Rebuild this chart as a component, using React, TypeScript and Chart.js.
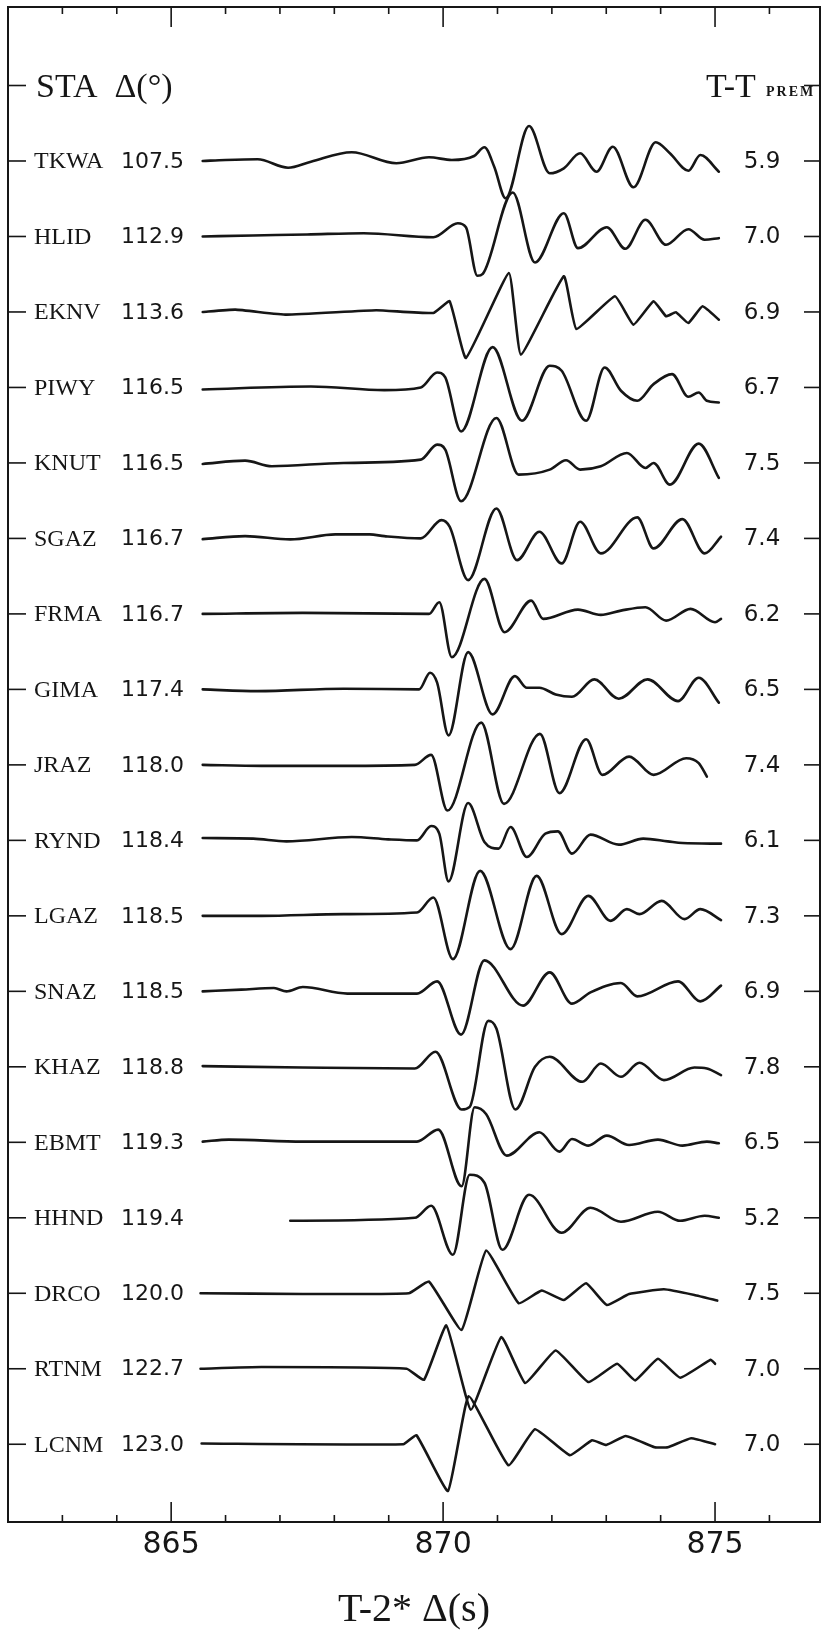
import React, { useEffect, useRef } from 'react';
import { Chart, registerables } from 'chart.js';

Chart.register(...registerables);

// Station list, epicentral distance (deg) and travel-time residual T - T(PREM) in seconds
const STATIONS = ['TKWA', 'HLID', 'EKNV', 'PIWY', 'KNUT', 'SGAZ', 'FRMA', 'GIMA', 'JRAZ', 'RYND', 'LGAZ', 'SNAZ', 'KHAZ', 'EBMT', 'HHND', 'DRCO', 'RTNM', 'LCNM'];
const DISTANCES = ['107.5', '112.9', '113.6', '116.5', '116.5', '116.7', '116.7', '117.4', '118.0', '118.4', '118.5', '118.5', '118.8', '119.3', '119.4', '120.0', '122.7', '123.0'];
const RESIDUALS = ['5.9', '7.0', '6.9', '6.7', '7.5', '7.4', '6.2', '6.5', '7.4', '6.1', '7.3', '6.9', '7.8', '6.5', '5.2', '7.5', '7.0', '7.0'];

// Reduced time axis T - 2*Δ (s)
const X_MIN = 862;
const X_MAX = 876.93;
const X_LABELS = [865, 870, 875];

// Amplitude units per trace spacing
const AMP_PER_ROW = 75.5;

// Waveforms: [reduced time (s), amplitude] turning points
const TKWA: [number, number][] = [[865.58, 0], [866.0, 1], [866.59, 1.7], [867.15, -6.7], [867.57, -0.7], [868.32, 8.7], [869.14, -2.3], [869.74, 3.7], [870.16, 1], [870.57, 5], [870.76, 13.7], [870.94, -5.7], [871.15, -37.3], [871.58, 35], [871.96, -12.3], [872.22, -7.3], [872.52, 7.7], [872.82, -10.7], [873.12, 14.3], [873.5, -26.3], [873.91, 18.7], [874.17, 7.7], [874.51, -9.7], [874.73, 6], [875.07, -10.7]];
const HLID: [number, number][] = [[865.58, 0], [866.5, 1], [867.5, 2], [868.54, 3.3], [869.82, -0.7], [870.27, 13.3], [870.42, 9.3], [870.63, -39.3], [870.73, -37.3], [871.28, 44], [871.69, -26], [872.22, 23.3], [872.48, -11.7], [873.01, 9.3], [873.35, -12.3], [873.72, 16.7], [874.1, -8.3], [874.51, 7.3], [874.81, -3.3], [875.07, -1.7]];
const EKNV: [number, number][] = [[865.58, 0], [866.18, 2.3], [867.12, -2.7], [868.77, 1.7], [869.82, -1], [870.12, 10.7], [870.42, -46], [871.21, 39], [871.43, -42.7], [872.22, 35.7], [872.45, -17], [873.16, 15.7], [873.5, -12.7], [873.87, 10.7], [874.1, -4.3], [874.28, -0.3], [874.51, -11], [874.77, 5.7], [875.07, -7.7]];
const PIWY: [number, number][] = [[865.58, -2], [867.57, 1], [868.92, -2.7], [869.59, 0], [869.89, 15], [870.04, 10], [870.33, -44], [870.91, 40.3], [871.45, -33.3], [871.96, 21.7], [872.18, 16.7], [872.63, -33.3], [872.97, 20], [873.27, -3.3], [873.57, -13.3], [873.87, 3.3], [874.21, 13.3], [874.51, -9.3], [874.7, -5], [874.85, -13.3], [875.07, -15]];
const KNUT: [number, number][] = [[865.58, -1], [866.36, 2.3], [866.85, -3.3], [868.17, 0], [869.59, 3.3], [869.89, 18.3], [870.04, 13.3], [870.33, -38.3], [870.98, 45], [871.39, -11.7], [871.96, -6.7], [872.26, 2.7], [872.52, -6.7], [872.9, -3.3], [873.38, 10], [873.72, -5], [873.87, 0], [874.17, -21.7], [874.7, 19.3], [875.07, -15]];
const SGAZ: [number, number][] = [[865.58, -0.7], [866.36, 2.3], [867.19, -1], [868.02, 4], [868.65, 4], [868.92, 2.3], [869.59, 0], [869.97, 18.3], [870.12, 11.7], [870.46, -41.7], [870.98, 30], [871.36, -21.7], [871.77, 6.7], [872.18, -25], [872.52, 16.7], [872.9, -15], [873.57, 21], [873.87, -10], [874.4, 19.3], [874.81, -15], [875.11, 1.7]];
const FRMA: [number, number][] = [[865.58, 0], [867.42, 1], [869.74, 0], [869.93, 11.7], [870.16, -43.3], [870.76, 35], [871.13, -18.3], [871.62, 13.3], [871.84, -5], [872.48, 4.3], [872.9, -1], [873.27, 3.3], [873.72, 6.7], [874.1, -6.7], [874.55, 5], [875.0, -8.3], [875.11, -5]];
const GIMA: [number, number][] = [[865.58, 0], [866.59, -1.7], [868.17, 0.7], [869.56, 0], [869.76, 16.7], [869.89, 6.7], [870.1, -46], [870.46, 37.3], [870.91, -25], [871.32, 13.3], [871.54, 1.7], [871.77, 1.7], [872.07, -5], [872.37, -7.3], [872.78, 10], [873.23, -9.3], [873.76, 10], [874.32, -11.7], [874.7, 11.7], [875.07, -13.3]];
const JRAZ: [number, number][] = [[865.58, 0], [866.66, -1], [868.17, -1], [869.48, 0], [869.78, 10], [870.08, -45.7], [870.7, 42.3], [871.12, -39], [871.78, 31], [872.14, -28.3], [872.63, 25.7], [872.93, -10], [873.42, 8.3], [873.87, -10], [874.47, 6.7], [874.7, 1.7], [874.85, -11.7]];
const RYND: [number, number][] = [[865.58, 2.3], [866.51, 1.7], [867.12, -1], [868.32, 3.3], [868.99, 1], [869.52, 0], [869.78, 14.3], [869.93, 6.7], [870.1, -41], [870.46, 37.3], [870.76, -1.7], [871.02, -8.3], [871.24, 13.3], [871.54, -16.7], [871.88, 6.7], [872.11, 9], [872.37, -13.3], [872.71, 5.7], [873.23, -4.3], [873.68, 1.7], [874.13, -1], [874.4, -2.7], [875.11, -3.3]];
const LGAZ: [number, number][] = [[865.58, 0], [866.66, 0], [868.17, 1.7], [869.52, 3.3], [869.82, 18.3], [870.18, -43.3], [870.68, 45], [871.24, -33.3], [871.72, 40], [872.18, -18.3], [872.67, 20], [873.08, -5], [873.38, 6.7], [873.61, 1.7], [874.02, 15], [874.44, -3.3], [874.73, 6.7], [875.11, -4.3]];
const SNAZ: [number, number][] = [[865.58, 0], [866.29, 1.7], [866.89, 3.3], [867.12, 0], [867.42, 4.3], [868.24, -2.3], [869.52, -2.3], [869.89, 10], [870.33, -43.3], [870.76, 31], [871.47, -14.3], [871.96, 19], [872.37, -12.3], [872.71, -1], [873.27, 8.3], [873.57, -5], [874.32, 10], [874.73, -10], [875.11, 5.7]];
const KHAZ: [number, number][] = [[865.58, 0.7], [867.42, -0.7], [869.48, -1.7], [869.86, 15], [870.34, -42.7], [870.49, -40], [870.83, 46], [870.98, 38.3], [871.33, -42.7], [871.69, 0], [871.96, 10], [872.56, -15], [872.9, 3.3], [873.27, -10], [873.61, 4], [874.06, -13.3], [874.62, -0.7], [874.85, -1.7], [875.11, -8.3]];
const EBMT: [number, number][] = [[865.58, 0.7], [866.06, 2.7], [867.42, 0.7], [869.52, 0.7], [869.91, 12.7], [870.34, -44], [870.58, 35], [870.79, 28.3], [871.17, -13.3], [871.77, 10], [872.14, -9.3], [872.37, 3.3], [872.67, -3.3], [873.01, 6.7], [873.42, -2.7], [873.95, 2.7], [874.4, -3.3], [874.85, 0.7], [875.07, -1]];
const HHND: [number, number][] = [[867.19, -3], [869.48, 0], [869.78, 12], [870.18, -37], [870.49, 43], [870.76, 35], [871.09, -32], [871.58, 23], [872.18, -15], [872.71, 10], [873.27, -4], [873.95, 6], [874.36, -3], [874.81, 2], [875.07, 0]];
const DRCO: [number, number][] = [[865.54, 0], [867.42, -0.7], [869.37, 0], [869.74, 11.7], [870.34, -36.7], [870.79, 42.7], [871.39, -10], [871.81, 2.7], [872.22, -6.7], [872.63, 10], [873.01, -11.7], [873.42, -0.7], [874.06, 4], [874.62, -1.7], [875.04, -7.3]];
const RTNM: [number, number][] = [[865.54, 0], [866.66, 1.7], [869.33, 0], [869.65, -11], [870.06, 43.3], [870.51, -41], [871.07, 31.7], [871.51, -14.3], [872.07, 18.3], [872.67, -13.3], [873.2, 5], [873.53, -11.7], [873.95, 10], [874.36, -9], [874.92, 9], [875.0, 5]];
const LCNM: [number, number][] = [[865.56, 0.7], [869.27, 0], [869.51, 9], [870.09, -46.7], [870.47, 48], [871.2, -21], [871.69, 15], [872.33, -11], [872.74, 4], [873.0, -0.7], [873.36, 8.3], [873.89, -3], [874.13, -3], [874.56, 6], [875.0, 0]];

const TRACES = [TKWA, HLID, EKNV, PIWY, KNUT, SGAZ, FRMA, GIMA, JRAZ, RYND, LGAZ, SNAZ, KHAZ, EBMT, HHND, DRCO, RTNM, LCNM];
// records plotted as straight segments between samples; the rest are smoothed
const ANGULAR = ['EKNV', 'DRCO', 'RTNM', 'LCNM'];

const INK = '#161616';
const SERIF = '"Liberation Serif", "DejaVu Serif", serif';
const NUM = '"DejaVu Sans", "Liberation Sans", sans-serif';

const framePlugin = {
  id: 'recordFrame',
  afterDraw(chart: any) {
    const { ctx, chartArea: a, scales } = chart;
    const x = scales.x;
    const y = scales.y;
    const seg = (x1: number, y1: number, x2: number, y2: number) => {
      ctx.beginPath();
      ctx.moveTo(x1, y1);
      ctx.lineTo(x2, y2);
      ctx.stroke();
    };
    ctx.save();
    ctx.strokeStyle = INK;
    ctx.fillStyle = INK;
    ctx.lineWidth = 2;
    ctx.strokeRect(a.left, a.top, a.right - a.left, a.bottom - a.top);

    // time ticks, top and bottom, every second
    ctx.lineWidth = 1.6;
    for (let v = Math.ceil(X_MIN); v <= X_MAX; v++) {
      const px = x.getPixelForValue(v);
      if (px - a.left < 3 || a.right - px < 3) continue;
      const len = v % 5 === 0 ? 20 : 7;
      seg(px, a.bottom, px, a.bottom - len);
      seg(px, a.top, px, a.top + len);
    }

    // row ticks on both sides (header row + one per station)
    for (let i = 0; i <= STATIONS.length; i++) {
      const py = y.getPixelForValue(i);
      seg(a.left, py, a.left + 18, py);
      seg(a.right - 16, py, a.right, py);
    }

    // header row
    const hy = y.getPixelForValue(0);
    ctx.textBaseline = 'alphabetic';
    ctx.textAlign = 'left';
    ctx.font = `34px ${SERIF}`;
    ctx.fillText('STA  Δ(°)', a.left + 28, hy + 11);
    ctx.fillText('T-T', 706, hy + 11);
    ctx.font = `bold 14px ${SERIF}`;
    (ctx as any).letterSpacing = '2px';
    ctx.fillText('PREM', 766, hy + 10);
    (ctx as any).letterSpacing = '0px';

    // station labels and residuals
    ctx.textBaseline = 'middle';
    STATIONS.forEach((name, i) => {
      const py = y.getPixelForValue(i + 1);
      ctx.textAlign = 'left';
      ctx.font = `24px ${SERIF}`;
      ctx.fillText(name, a.left + 26, py + 1);
      ctx.textAlign = 'right';
      ctx.font = `22px ${NUM}`;
      ctx.fillText(DISTANCES[i], a.left + 176, py + 1);
      ctx.textAlign = 'center';
      ctx.font = `23px ${NUM}`;
      ctx.fillText(RESIDUALS[i], 762, py + 1);
    });
    ctx.restore();
  },
};

export default function App() {
  const canvasRef = useRef<HTMLCanvasElement | null>(null);

  useEffect(() => {
    const canvas = canvasRef.current;
    if (!canvas) return;
    const datasets = TRACES.map((trace, i) => {
      const angular = ANGULAR.includes(STATIONS[i]);
      return {
        label: STATIONS[i],
        data: trace.map(([t, amp]) => ({ x: t, y: i + 1 - amp / AMP_PER_ROW })),
        borderColor: INK,
        borderWidth: 2.6,
        pointRadius: 0,
        fill: false,
        tension: angular ? 0.12 : 0,
        cubicInterpolationMode: angular ? ('default' as const) : ('monotone' as const),
        borderJoinStyle: 'round' as const,
        borderCapStyle: 'round' as const,
      };
    });

    const chart = new Chart(canvas, {
      type: 'line',
      data: { datasets },
      options: {
        responsive: false,
        animation: false,
        devicePixelRatio: 1,
        layout: { padding: { left: 8, right: 1, top: 7, bottom: 0 } },
        plugins: { legend: { display: false }, tooltip: { enabled: false } },
        events: [],
        scales: {
          x: {
            type: 'linear',
            position: 'bottom',
            min: X_MIN,
            max: X_MAX,
            grid: { display: false, drawTicks: false },
            border: { display: false },
            afterBuildTicks: (scale: any) => {
              scale.ticks = X_LABELS.map((v) => ({ value: v }));
            },
            afterFit: (scale: any) => {
              scale.height = 113;
            },
            ticks: {
              autoSkip: false,
              maxRotation: 0,
              padding: 5,
              color: INK,
              font: { family: NUM, size: 30 },
              callback: (v: any) => String(v),
            },
            title: {
              display: true,
              text: 'T-2* Δ(s)',
              color: INK,
              font: { family: SERIF, size: 40, lineHeight: 1 },
              padding: { top: 0, bottom: 5 },
            },
          },
          y: {
            type: 'linear',
            display: false,
            reverse: true,
            min: -1.04,
            max: 19.03,
          },
        },
      },
      plugins: [framePlugin],
    });
    return () => chart.destroy();
  }, []);

  return (
    <div style={{ position: 'absolute', left: 0, top: 0, width: 821, height: 1635, background: '#fff' }}>
      <canvas ref={canvasRef} width={821} height={1635} style={{ display: 'block', width: 821, height: 1635 }} />
    </div>
  );
}
